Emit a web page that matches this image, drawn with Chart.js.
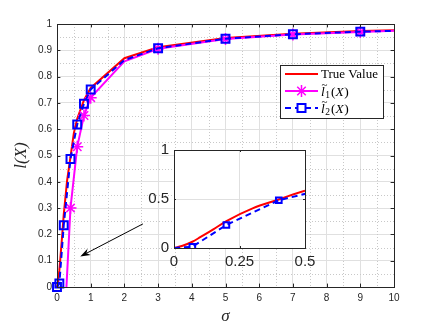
<!DOCTYPE html>
<html>
<head>
<meta charset="utf-8">
<script src="https://cdn.jsdelivr.net/npm/chart.js@4.4.0/dist/chart.umd.min.js"></script>
<style>
  html, body { margin: 0; padding: 0; background: #fff; }
  #wrap { position: relative; width: 436px; height: 327px; }
  #main { position: absolute; left: 0; top: 0; }
  #inset { position: absolute; left: 124px; top: 130px; }
</style>
</head>
<body>
<div id="wrap">
  <canvas id="main" width="436" height="327"></canvas>
  <canvas id="inset" width="200" height="145"></canvas>
</div>
<script>
// ==================== DATOS ====================
// valor verdadero
const trueSigma = [0, 0.03, 0.07, 0.1, 0.15, 0.2, 0.3, 0.4, 0.5, 0.6, 0.8, 1, 2, 3, 5, 7, 9, 10];
const trueVal   = [0, 0.02, 0.064, 0.11, 0.19, 0.275, 0.405, 0.495, 0.585, 0.64, 0.71, 0.757, 0.87, 0.912, 0.947, 0.963, 0.973, 0.976];

// estimador l1
const l1Sigma = [0.28, 0.4, 0.6, 0.8, 1, 2, 3, 5, 7, 9, 10];
const l1Val   = [0, 0.3, 0.533, 0.652, 0.72, 0.858, 0.906, 0.943, 0.96, 0.97, 0.974];

// estimador l2
const l2Sigma = [0, 0.07, 0.2, 0.4, 0.6, 0.8, 1, 2, 3, 5, 7, 9, 10];
const l2Val   = [0, 0.013, 0.235, 0.487, 0.618, 0.697, 0.751, 0.863, 0.908, 0.944, 0.961, 0.971, 0.974];

// puntos sin marcador
const unmarkedSigma = [0.28, 2, 10];

// ejes
const xTicksMain = [0, 1, 2, 3, 4, 5, 6, 7, 8, 9, 10];
const yTicksMain = [0, 0.1, 0.2, 0.3, 0.4, 0.5, 0.6, 0.7, 0.8, 0.9, 1];
const xTicksInset = [0, 0.25, 0.5];
const yTicksInset = [0, 0.5, 1];

const legendLabels = ['True Value', 'l1', 'l2'];
const arrowFrom = [2.55, 0.24];
const arrowTo = [0.69, 0.116];

// ==================== ESTILOS ====================
const AXIS_COLOR = '#262626';
const GRID_COLOR = '#e0e0e0';
const MINOR_COLOR = '#c8c8c8';
const RED = '#ff0000', MAGENTA = '#ff00ff', BLUE = '#0000ff';
const SERIF = '"Liberation Serif", "Times New Roman", serif';

Chart.defaults.font.family = '"Liberation Sans", Arial, sans-serif';
Chart.defaults.color = AXIS_COLOR;

const toPoints = (xs, ys) => xs.map((x, i) => ({ x: x, y: ys[i] }));

function markerRadius(size) {
    return c => (c.raw && unmarkedSigma.includes(c.raw.x)) ? 0 : size;
}

// ==================== UTILIDADES DE DIBUJO ====================
function drawBoxAndTicks(chart, xTicks, yTicks, len) {
    const { ctx, chartArea: a, scales } = chart;
    ctx.save();
    ctx.strokeStyle = AXIS_COLOR;
    ctx.lineWidth = 1;
    ctx.beginPath();
    xTicks.forEach(v => {
        const px = Math.round(scales.x.getPixelForValue(v)) + 0.5;
        ctx.moveTo(px, a.bottom); ctx.lineTo(px, a.bottom - len);
        ctx.moveTo(px, a.top); ctx.lineTo(px, a.top + len);
    });
    yTicks.forEach(v => {
        const py = Math.round(scales.y.getPixelForValue(v)) + 0.5;
        ctx.moveTo(a.left, py); ctx.lineTo(a.left + len, py);
        ctx.moveTo(a.right, py); ctx.lineTo(a.right - len, py);
    });
    ctx.stroke();
    ctx.strokeRect(Math.round(a.left) + 0.5, Math.round(a.top) + 0.5,
        Math.round(a.right - a.left), Math.round(a.bottom - a.top));
    ctx.restore();
}

function drawMinorGrid(chart) {
    const { ctx, chartArea: a, scales } = chart;
    ctx.save();
    ctx.strokeStyle = MINOR_COLOR;
    ctx.lineWidth = 1;
    ctx.setLineDash([1, 2]);
    ctx.beginPath();
    for (let i = 0; i < xTicksMain.length - 1; i++) {
        const v = (xTicksMain[i] + xTicksMain[i + 1]) / 2;
        const px = Math.round(scales.x.getPixelForValue(v)) + 0.5;
        ctx.moveTo(px, a.top); ctx.lineTo(px, a.bottom);
    }
    for (let i = 0; i < yTicksMain.length - 1; i++) {
        const v = (yTicksMain[i] + yTicksMain[i + 1]) / 2;
        const py = Math.round(scales.y.getPixelForValue(v)) + 0.5;
        ctx.moveTo(a.left, py); ctx.lineTo(a.right, py);
    }
    ctx.stroke();
    ctx.restore();
}

function drawArrow(chart) {
    const { ctx, scales } = chart;
    const x1 = scales.x.getPixelForValue(arrowFrom[0]), y1 = scales.y.getPixelForValue(arrowFrom[1]);
    const x2 = scales.x.getPixelForValue(arrowTo[0]), y2 = scales.y.getPixelForValue(arrowTo[1]);
    const ang = Math.atan2(y2 - y1, x2 - x1);
    const hl = 10, hw = 3.5;
    ctx.save();
    ctx.strokeStyle = '#000';
    ctx.fillStyle = '#000';
    ctx.lineWidth = 1;
    ctx.beginPath();
    ctx.moveTo(x1, y1);
    ctx.lineTo(x2 - Math.cos(ang) * hl * 0.7, y2 - Math.sin(ang) * hl * 0.7);
    ctx.stroke();
    const bx = x2 - Math.cos(ang) * hl, by = y2 - Math.sin(ang) * hl;
    const nx = -Math.sin(ang), ny = Math.cos(ang);
    ctx.beginPath();
    ctx.moveTo(x2, y2);
    ctx.lineTo(bx + nx * hw, by + ny * hw);
    ctx.lineTo(x2 - Math.cos(ang) * hl * 0.7, y2 - Math.sin(ang) * hl * 0.7);
    ctx.lineTo(bx - nx * hw, by - ny * hw);
    ctx.closePath();
    ctx.fill();
    ctx.restore();
}

function drawStar(ctx, x, y, r) {
    ctx.beginPath();
    ctx.moveTo(x - r, y); ctx.lineTo(x + r, y);
    ctx.moveTo(x, y - r); ctx.lineTo(x, y + r);
    const d = r * Math.SQRT1_2;
    ctx.moveTo(x - d, y - d); ctx.lineTo(x + d, y + d);
    ctx.moveTo(x - d, y + d); ctx.lineTo(x + d, y - d);
    ctx.stroke();
}

function drawLTilde(ctx, x, y, sub) {
    ctx.textBaseline = 'alphabetic';
    ctx.textAlign = 'left';
    const base = y + 4.5;
    ctx.font = 'italic 13.5px ' + SERIF;
    ctx.fillText('l', x, base);
    const lw = ctx.measureText('l').width;
    ctx.font = '11px ' + SERIF;
    ctx.textAlign = 'center';
    ctx.fillText('~', x + lw / 2 + 1.5, base - 8);
    ctx.textAlign = 'left';
    ctx.font = '9.5px ' + SERIF;
    ctx.fillText(sub, x + lw + 0.5, base + 2.5);
    let cx = x + lw + 0.5 + ctx.measureText(sub).width + 1;
    ctx.font = '13.5px ' + SERIF;
    ctx.fillText('(', cx, base);
    cx += ctx.measureText('(').width;
    ctx.font = 'italic 13.5px ' + SERIF;
    ctx.fillText('X', cx, base);
    cx += ctx.measureText('X').width + 0.5;
    ctx.font = '13.5px ' + SERIF;
    ctx.fillText(')', cx, base);
}

function drawLegend(ctx) {
    const x0 = 280, y0 = 65, w = 103, h = 53;
    const rows = [74, 91, 108];
    const s0 = 285, s1 = 318, mid = 301.5, tx = 321;
    ctx.save();
    ctx.fillStyle = '#fff';
    ctx.fillRect(x0, y0, w, h);
    ctx.strokeStyle = AXIS_COLOR;
    ctx.lineWidth = 1;
    ctx.strokeRect(x0 + 0.5, y0 + 0.5, w, h);

    // True Value
    ctx.strokeStyle = RED;
    ctx.lineWidth = 2;
    ctx.beginPath(); ctx.moveTo(s0, rows[0]); ctx.lineTo(s1, rows[0]); ctx.stroke();
    // l1
    ctx.strokeStyle = MAGENTA;
    ctx.beginPath(); ctx.moveTo(s0, rows[1]); ctx.lineTo(s1, rows[1]); ctx.stroke();
    ctx.lineWidth = 1.5;
    drawStar(ctx, mid, rows[1], 6);
    // l2
    ctx.strokeStyle = BLUE;
    ctx.lineWidth = 2;
    ctx.setLineDash([6, 4]);
    ctx.beginPath(); ctx.moveTo(s0, rows[2]); ctx.lineTo(s1, rows[2]); ctx.stroke();
    ctx.setLineDash([]);
    ctx.fillStyle = '#fff';
    ctx.fillRect(mid - 4, rows[2] - 4, 8, 8);
    ctx.strokeRect(mid - 4, rows[2] - 4, 8, 8);

    ctx.fillStyle = '#000';
    ctx.font = '13px ' + SERIF;
    ctx.textBaseline = 'middle';
    ctx.fillText(legendLabels[0], tx, rows[0] + 1);
    drawLTilde(ctx, tx, rows[1], '1');
    drawLTilde(ctx, tx, rows[2], '2');
    ctx.restore();
}

// ==================== PLUGINS ====================
const mainDecor = {
    id: 'mainDecor',
    beforeDatasetsDraw(chart) { drawMinorGrid(chart); },
    afterDatasetsDraw(chart) {
        drawBoxAndTicks(chart, xTicksMain, yTicksMain, 3.4);
        drawArrow(chart);
        drawLegend(chart.ctx);
    }
};

const insetDecor = {
    id: 'insetDecor',
    beforeDraw(chart) {
        const { ctx, chartArea: a } = chart;
        ctx.save();
        ctx.fillStyle = '#fff';
        ctx.fillRect(a.left, a.top, a.right - a.left, a.bottom - a.top);
        ctx.restore();
    },
    afterDatasetsDraw(chart) { drawBoxAndTicks(chart, xTicksInset, yTicksInset, 2); }
};

// ==================== GRÁFICO PRINCIPAL ====================
const tickFont = { size: 10 };

new Chart(document.getElementById('main'), {
    type: 'line',
    data: {
        datasets: [
            {
                data: toPoints(l2Sigma, l2Val),
                borderColor: BLUE, borderWidth: 2, borderDash: [6, 4],
                pointStyle: 'rect', pointRadius: markerRadius(5.6),
                pointBorderColor: BLUE, pointBorderWidth: 2,
                pointBackgroundColor: 'rgba(0,0,0,0)',
                clip: false
            },
            {
                data: toPoints(l1Sigma, l1Val),
                borderColor: MAGENTA, borderWidth: 2,
                pointStyle: 'star', pointRadius: markerRadius(6),
                pointBorderColor: MAGENTA, pointBorderWidth: 1.5,
                clip: false
            },
            {
                data: toPoints(trueSigma, trueVal),
                borderColor: RED, borderWidth: 2,
                pointRadius: 0,
                clip: false
            }
        ]
    },
    options: {
        responsive: false,
        animation: false,
        devicePixelRatio: 1,
        layout: { padding: { top: 24, right: 42, left: 0, bottom: 0 } },
        plugins: { legend: { display: false }, tooltip: { enabled: false } },
        elements: { line: { tension: 0 } },
        scales: {
            x: {
                type: 'linear', min: 0, max: 10,
                afterBuildTicks: s => { s.ticks = xTicksMain.map(v => ({ value: v })); },
                ticks: { padding: 5, font: tickFont, color: AXIS_COLOR, maxRotation: 0 },
                grid: { color: GRID_COLOR, drawTicks: false },
                border: { display: false },
                title: {
                    display: true, text: 'σ', color: AXIS_COLOR,
                    font: { family: SERIF, style: 'italic', size: 17 },
                    padding: { top: 0, bottom: 0 }
                },
                afterFit: s => { s.height = 40; }
            },
            y: {
                type: 'linear', min: 0, max: 1,
                afterBuildTicks: s => { s.ticks = yTicksMain.map(v => ({ value: v })); },
                ticks: { padding: 5, font: tickFont, color: AXIS_COLOR, callback: v => String(+v.toFixed(2)) },
                grid: { color: GRID_COLOR, drawTicks: false },
                border: { display: false },
                title: {
                    display: true, text: 'l(X)', color: AXIS_COLOR,
                    font: { family: SERIF, style: 'italic', size: 17 },
                    padding: { top: 11, bottom: 0 }
                },
                afterFit: s => { s.width = 57; }
            }
        }
    },
    plugins: [mainDecor]
});

// ==================== RECUADRO (ZOOM) ====================
const insetFont = { size: 15 };

new Chart(document.getElementById('inset'), {
    type: 'line',
    data: {
        datasets: [
            {
                data: toPoints(l2Sigma, l2Val),
                borderColor: BLUE, borderWidth: 2, borderDash: [6, 4],
                pointStyle: 'rect',
                pointRadius: c => (c.raw && c.raw.x > 0 && c.raw.x <= 0.5) ? 4 : 0,
                pointBorderColor: BLUE, pointBorderWidth: 2,
                pointBackgroundColor: 'rgba(0,0,0,0)'
            },
            {
                data: toPoints(trueSigma, trueVal),
                borderColor: RED, borderWidth: 2,
                pointRadius: 0,
                cubicInterpolationMode: 'monotone'
            }
        ]
    },
    options: {
        responsive: false,
        animation: false,
        devicePixelRatio: 1,
        layout: { padding: { top: 20, right: 19, left: 0, bottom: 0 } },
        plugins: { legend: { display: false }, tooltip: { enabled: false } },
        scales: {
            x: {
                type: 'linear', min: 0, max: 0.5,
                afterBuildTicks: s => { s.ticks = xTicksInset.map(v => ({ value: v })); },
                ticks: { padding: 5, font: insetFont, color: AXIS_COLOR, maxRotation: 0, callback: v => String(v) },
                grid: { color: GRID_COLOR, drawTicks: false },
                border: { display: false },
                afterFit: s => { s.height = 27; }
            },
            y: {
                type: 'linear', min: 0, max: 1,
                afterBuildTicks: s => { s.ticks = yTicksInset.map(v => ({ value: v })); },
                ticks: { padding: 5, font: insetFont, color: AXIS_COLOR, callback: v => String(v) },
                grid: { color: GRID_COLOR, drawTicks: false },
                border: { display: false },
                afterFit: s => { s.width = 50; }
            }
        }
    },
    plugins: [insetDecor]
});
</script>
</body>
</html>
